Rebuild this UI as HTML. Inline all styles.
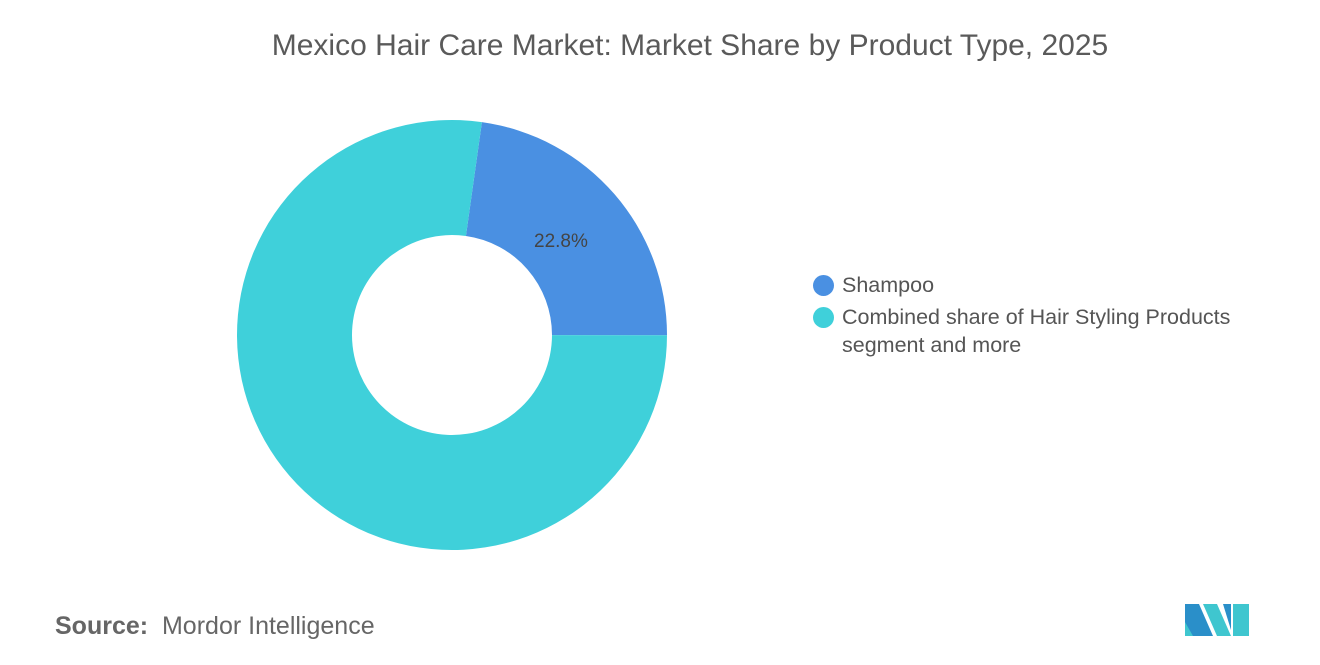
<!DOCTYPE html>
<html><head><meta charset="utf-8"><style>
body{margin:0;width:1320px;height:665px;background:#fff;font-family:"Liberation Sans",sans-serif;overflow:hidden;position:relative}
.t{position:absolute;left:0;width:1380px;text-align:center;top:29px;font-size:30px;color:#5a5a5a}
.leg{position:absolute;left:813px;font-size:21.5px;color:#555;line-height:28px;white-space:nowrap}
.dot{position:absolute;left:0;top:4px;width:21px;height:21px;border-radius:50%}
.src{position:absolute;left:55px;top:612px;font-size:25px;color:#666}
</style></head><body>
<div class="t">Mexico Hair Care Market: Market Share by Product Type, 2025</div>
<svg id="c" width="1320" height="665" style="position:absolute;left:0;top:0"></svg>
<div class="leg" style="top:271px"><span class="dot" style="background:#4a90e2"></span><span style="margin-left:29px">Shampoo</span></div>
<div class="leg" style="top:303px"><span class="dot" style="background:#3fd0da"></span><div style="margin-left:29px">Combined share of Hair Styling Products<br>segment and more</div></div>
<div class="src"><b style="font-weight:600">Source:</b>&nbsp; Mordor Intelligence</div>
<svg width="70" height="40" style="position:absolute;left:1183px;top:600px">
<polygon points="2,4 16,4 30,36 2,36" fill="#2a8fc9"/><polygon points="2,22 10,36 2,36" fill="#3fc6cf"/>
<polygon points="20,4 34,4 48,36 34,36" fill="#3fc6cf"/><polygon points="50,4 66,4 66,36 50,36" fill="#3fc6cf"/><polygon points="40,4 48,4 48,30" fill="#2a8fc9"/>
</svg>
<script>
const labels=["Shampoo","Combined share of Hair Styling Products segment and more"];
const values=[22.8,77.2];
const colors=["#4a90e2","#3fd0da"];
const svg=document.getElementById('c');
const cx=452,cy=335,R=215,r=100,start=8;
let a=start;const ns="http://www.w3.org/2000/svg";
function pt(deg,rad){const t=(deg-90)*Math.PI/180;return [cx+rad*Math.cos(t),cy+rad*Math.sin(t)];}
const total=values.reduce((s,v)=>s+v,0);
values.forEach((v,i)=>{
 const sweep=v/total*360,b=a+sweep,l=sweep>180?1:0;
 const [x1,y1]=pt(a,R),[x2,y2]=pt(b,R),[x3,y3]=pt(b,r),[x4,y4]=pt(a,r);
 const p=document.createElementNS(ns,'path');
 p.setAttribute('d',`M${x1},${y1}A${R},${R} 0 ${l} 1 ${x2},${y2}L${x3},${y3}A${r},${r} 0 ${l} 0 ${x4},${y4}Z`);
 p.setAttribute('fill',colors[i]);
 
 
 svg.appendChild(p);
 if(i===0){const [tx,ty]=pt(a+sweep/2,(R+r)/2);
  const t=document.createElementNS(ns,'text');
  t.setAttribute('x',tx-10);t.setAttribute('y',ty+15);t.setAttribute('text-anchor','middle');
  t.setAttribute('font-size','19');t.setAttribute('fill','#444');t.setAttribute('font-family','Liberation Sans');
  t.textContent=v+'%';
  
  
  svg.appendChild(t);}
 a=b;
});
</script>
</body></html>
